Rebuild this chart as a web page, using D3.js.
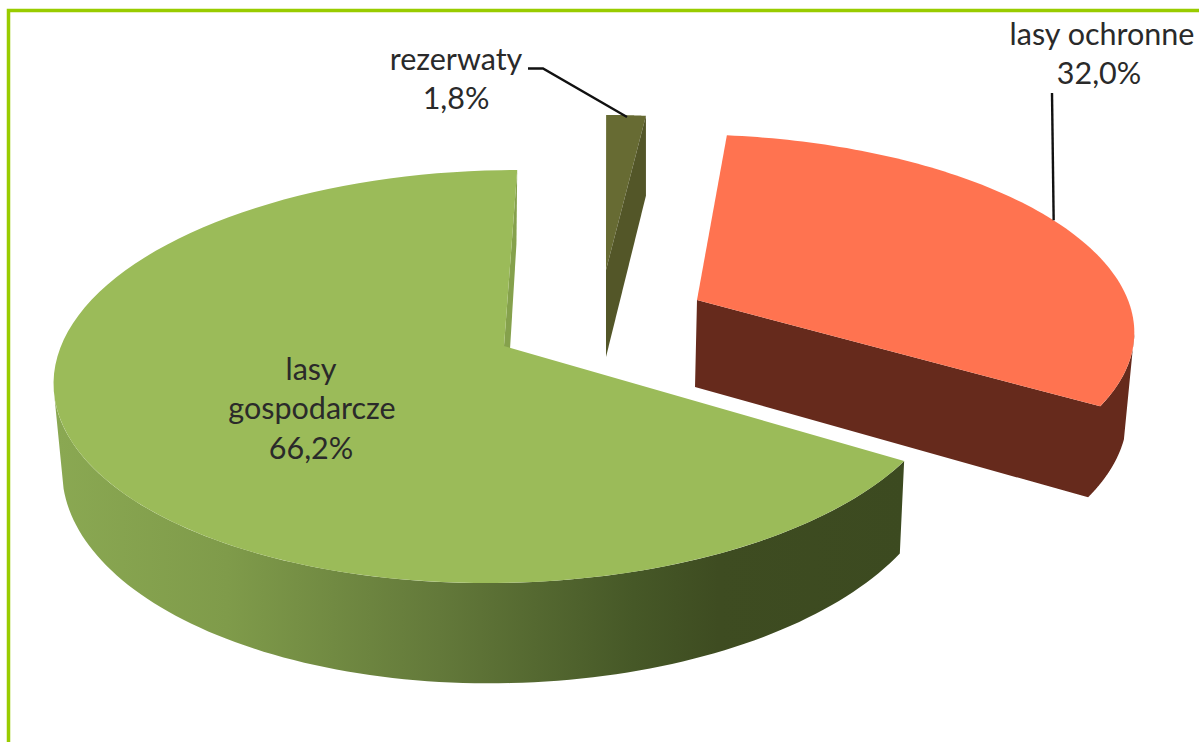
<!DOCTYPE html>
<html><head><meta charset="utf-8">
<script src="https://cdnjs.cloudflare.com/ajax/libs/d3/7.8.5/d3.min.js"></script>
<style>html,body{margin:0;padding:0;background:#fff;overflow:hidden}svg{display:block}
text{font-family:Lato,"Open Sans",sans-serif;font-size:30.5px;fill:#2a2a2a;text-anchor:middle}</style>
</head><body><svg id="c" width="1199" height="742"></svg>
<script>
// Data
const categories = ["lasy ochronne", "lasy gospodarcze", "rezerwaty"];
const shares = [32.0, 66.2, 1.8];
const shareLabels = ["32,0%", "66,2%", "1,8%"];
const firstSliceStartDeg = 6.5;
// Appearance
const topColors = ["#ff7350", "#9bbb59", "#676b33"];
const wallColors = ["#662a1c", "url(#wallGrad)", "#535628"];
// Perspective of each exploded slice: top face, bottom face
const faces = [
  {top:{cx:697,cy:300,R:431,s:15,k:188,p:.135}, bot:{cx:695,cy:387,R:428,s:2,k:195,p:.135}},
  {top:{cx:504,cy:346,R:443,s:-15,k:202,p:.148}, bot:{cx:505,cy:431,R:436,s:-13,k:215,p:.148}},
  {top:{cx:606,cy:270,R:400,s:0,k:176,p:.135}, bot:{cx:606,cy:357,R:400,s:0,k:184,p:.135}}
];
const wallStops = [[0,"#8aa852"],[.2,"#7f9b4a"],[.45,"#63793a"],[.68,"#465827"],[.78,"#3e4c21"],[1,"#3c4a20"]];

const svg = d3.select("#c");
const grad = svg.append("defs").append("linearGradient").attr("id","wallGrad")
  .attr("gradientUnits","userSpaceOnUse").attr("x1",58).attr("x2",905).attr("y1",0).attr("y2",0);
wallStops.forEach(d=>grad.append("stop").attr("offset",d[0]).attr("stop-color",d[1]));

svg.append("path").attr("d","M1199,10.5H8.5V742").attr("fill","none").attr("stroke","#99cc00").attr("stroke-width",3.5);

const rad = Math.PI/180;
const pie = d3.pie().sort(null).startAngle(firstSliceStartDeg*rad).endAngle(firstSliceStartDeg*rad+2*Math.PI);
const arcs = pie(shares);
const proj = (f,a)=>{
  const u=Math.sin(a), v=-Math.cos(a), w=1-f.p*v;
  return [f.cx+(f.R*u+f.s*v)/w, f.cy+f.k*v/w];
};
const line = d3.line();
const rim = (f,a0,a1)=>d3.range(0,101).map(i=>proj(f,a0+(a1-a0)*i/100));
const sector = (f,a0,a1)=>line([[f.cx,f.cy],...rim(f,a0,a1)])+"Z";
const wall = (f,t0,t1,b0,b1)=>line([...rim(f.top,t0,t1),...rim(f.bot,b0,b1).reverse()])+"Z";
const endFace = (f,a)=>line([[f.top.cx,f.top.cy],proj(f.top,a),proj(f.bot,a),[f.bot.cx,f.bot.cy]])+"Z";

// lasy ochronne
{const d=arcs[0],f=faces[0];
 svg.append("path").attr("d",endFace(f,d.endAngle)+wall(f,100*rad,d.endAngle,105*rad,d.endAngle)).attr("fill",wallColors[0]);
 svg.append("path").attr("d",sector(f.top,d.startAngle,d.endAngle)).attr("fill",topColors[0]);}
// rezerwaty
{const d=arcs[2],f=faces[2];
 svg.append("path").attr("d",sector(f.top,d.startAngle,d.endAngle)).attr("fill",topColors[2]);
 svg.append("path").attr("d",endFace(f,d.endAngle)).attr("fill",wallColors[2]);}
// lasy gospodarcze
{const d=arcs[1],f=faces[1];
 svg.append("path").attr("d",endFace(f,d.endAngle)).attr("fill","#85a14c");
 svg.append("path").attr("d",wall(f,d.startAngle,258*rad,d.startAngle,255*rad)).attr("fill",wallColors[1]);
 svg.append("path").attr("d",sector(f.top,d.startAngle,d.endAngle)).attr("fill",topColors[1]);}

// leader lines
const leader = d3.line();
svg.append("path").attr("d",leader([proj(faces[0].top,(arcs[0].startAngle+arcs[0].endAngle)/2-.014),[1052,93]])).attr("fill","none").attr("stroke","#111").attr("stroke-width",2.4);
svg.append("path").attr("d",leader([[528,68.5],[543,68.5],[627,117]])).attr("fill","none").attr("stroke","#111").attr("stroke-width",2.4);

// labels
const labels=[
  [[1102,45,categories[0]],[1099,84,shareLabels[0]]],
  [[311,380,"lasy"],[312,419,"gospodarcze"],[311,459,shareLabels[1]]],
  [[456,70,categories[2]],[456,109,shareLabels[2]]]];
labels.flat().forEach(l=>svg.append("text").attr("x",l[0]).attr("y",l[1]).text(l[2]));
</script></body></html>
